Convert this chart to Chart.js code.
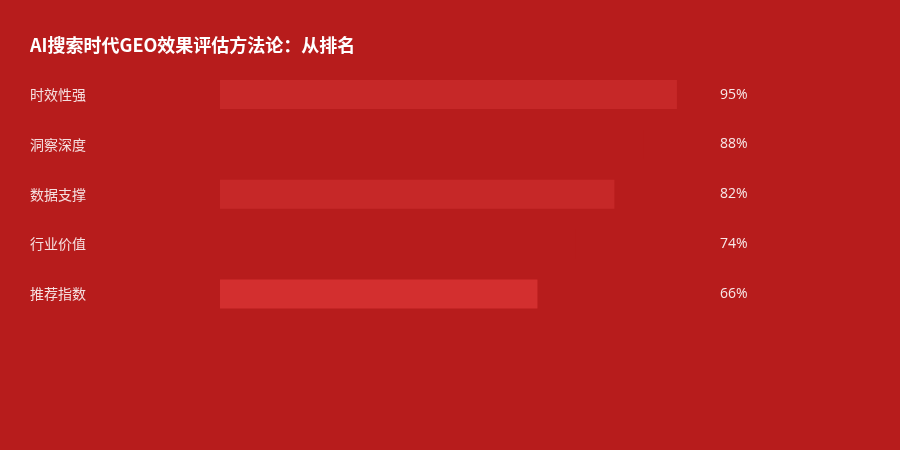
<!DOCTYPE html>
<html>
<head>
<meta charset="utf-8">
<script src="https://cdn.jsdelivr.net/npm/chart.js@4"></script>
<style>
  html, body { margin: 0; padding: 0; background: #B71C1C; }
  #wrap { width: 900px; height: 450px; position: relative; }
</style>
</head>
<body>
<div id="wrap"><canvas id="c" width="900" height="450"></canvas></div>
<script>
const titleText = 'AI搜索时代GEO效果评估方法论：从排名';
const categories = ['时效性强', '洞察深度', '数据支撑', '行业价值', '推荐指数'];
const values = [95, 88, 82, 74, 66];
const valueLabels = values.map(v => v + '%');
const barColors = ['#C62828', '#B71C1C', '#C62828', '#B71C1C', '#D32F2F'];

const FONT = '"Noto Sans CJK SC", "Noto Sans", sans-serif';

new Chart(document.getElementById('c'), {
  type: 'bar',
  data: {
    labels: categories,
    datasets: [{
      data: values,
      backgroundColor: barColors,
      borderWidth: 0,
      barPercentage: 0.58,
      categoryPercentage: 1.0,
      yAxisID: 'y'
    }]
  },
  options: {
    indexAxis: 'y',
    responsive: false,
    animation: false,
    devicePixelRatio: 1,
    layout: { padding: { left: 30, right: 0, top: 0, bottom: 131 } },
    plugins: {
      legend: { display: false },
      tooltip: { enabled: false },
      title: {
        display: true,
        text: titleText,
        align: 'start',
        color: '#FFFFFF',
        font: { family: FONT, size: 18, weight: 'bold', lineHeight: 1.2 },
        padding: { top: 34, bottom: 14 }
      }
    },
    scales: {
      x: {
        display: false,
        min: 0,
        max: 100
      },
      y: {
        position: 'left',
        grid: { display: false },
        border: { display: false },
        ticks: {
          color: 'rgba(255,255,255,0.86)',
          font: { family: FONT, size: 14 },
          crossAlign: 'far',
          padding: 0
        },
        afterFit: s => { s.width = 190; s.paddingTop = 0; s.paddingBottom = 0; }
      },
      y2: {
        type: 'category',
        position: 'right',
        labels: valueLabels,
        offset: true,
        grid: { display: false },
        border: { display: false },
        ticks: {
          color: 'rgba(255,255,255,0.9)',
          font: { family: '"Open Sans", "Noto Sans", sans-serif', size: 14 },
          crossAlign: 'near',
          padding: 11
        },
        afterFit: s => { s.width = 199; s.paddingTop = 0; s.paddingBottom = 0; }
      }
    }
  },
  plugins: [{
    id: 'bg',
    beforeDraw(chart) {
      const ctx = chart.ctx;
      ctx.save();
      ctx.fillStyle = '#B71C1C';
      ctx.fillRect(0, 0, chart.width, chart.height);
      ctx.restore();
    }
  }]
});
</script>
</body>
</html>
